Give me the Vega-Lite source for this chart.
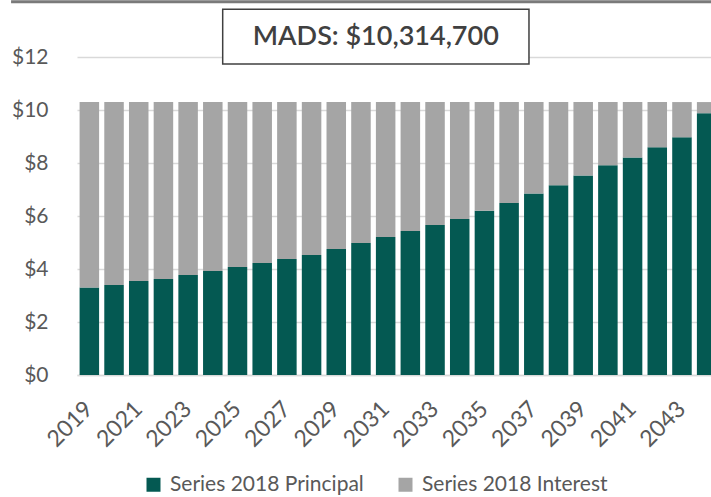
{
  "$schema": "https://vega.github.io/schema/vega-lite/v6.json",
  "width": 634,
  "height": 373,
  "autosize": {"type": "none"},
  "padding": {"left": 77, "top": 2, "right": 0, "bottom": 122},
  "background": "white",
  "config": {"view": {"stroke": null}, "font": "Lato"},
  "layer": [
    {
      "data": {
        "values": [
          {"year": "2019", "series": "Series 2018 Principal", "value": 3.31},
          {"year": "2020", "series": "Series 2018 Principal", "value": 3.40},
          {"year": "2021", "series": "Series 2018 Principal", "value": 3.55},
          {"year": "2022", "series": "Series 2018 Principal", "value": 3.63},
          {"year": "2023", "series": "Series 2018 Principal", "value": 3.78},
          {"year": "2024", "series": "Series 2018 Principal", "value": 3.93},
          {"year": "2025", "series": "Series 2018 Principal", "value": 4.08},
          {"year": "2026", "series": "Series 2018 Principal", "value": 4.23},
          {"year": "2027", "series": "Series 2018 Principal", "value": 4.38},
          {"year": "2028", "series": "Series 2018 Principal", "value": 4.53},
          {"year": "2029", "series": "Series 2018 Principal", "value": 4.76},
          {"year": "2030", "series": "Series 2018 Principal", "value": 4.99},
          {"year": "2031", "series": "Series 2018 Principal", "value": 5.21},
          {"year": "2032", "series": "Series 2018 Principal", "value": 5.44},
          {"year": "2033", "series": "Series 2018 Principal", "value": 5.67},
          {"year": "2034", "series": "Series 2018 Principal", "value": 5.89},
          {"year": "2035", "series": "Series 2018 Principal", "value": 6.20},
          {"year": "2036", "series": "Series 2018 Principal", "value": 6.50},
          {"year": "2037", "series": "Series 2018 Principal", "value": 6.86},
          {"year": "2038", "series": "Series 2018 Principal", "value": 7.17},
          {"year": "2039", "series": "Series 2018 Principal", "value": 7.54},
          {"year": "2040", "series": "Series 2018 Principal", "value": 7.92},
          {"year": "2041", "series": "Series 2018 Principal", "value": 8.22},
          {"year": "2042", "series": "Series 2018 Principal", "value": 8.60},
          {"year": "2043", "series": "Series 2018 Principal", "value": 8.98},
          {"year": "2044", "series": "Series 2018 Principal", "value": 9.89},
          {"year": "2019", "series": "Series 2018 Interest", "value": 7.00},
          {"year": "2020", "series": "Series 2018 Interest", "value": 6.91},
          {"year": "2021", "series": "Series 2018 Interest", "value": 6.76},
          {"year": "2022", "series": "Series 2018 Interest", "value": 6.68},
          {"year": "2023", "series": "Series 2018 Interest", "value": 6.53},
          {"year": "2024", "series": "Series 2018 Interest", "value": 6.38},
          {"year": "2025", "series": "Series 2018 Interest", "value": 6.23},
          {"year": "2026", "series": "Series 2018 Interest", "value": 6.08},
          {"year": "2027", "series": "Series 2018 Interest", "value": 5.93},
          {"year": "2028", "series": "Series 2018 Interest", "value": 5.78},
          {"year": "2029", "series": "Series 2018 Interest", "value": 5.55},
          {"year": "2030", "series": "Series 2018 Interest", "value": 5.32},
          {"year": "2031", "series": "Series 2018 Interest", "value": 5.10},
          {"year": "2032", "series": "Series 2018 Interest", "value": 4.87},
          {"year": "2033", "series": "Series 2018 Interest", "value": 4.64},
          {"year": "2034", "series": "Series 2018 Interest", "value": 4.42},
          {"year": "2035", "series": "Series 2018 Interest", "value": 4.11},
          {"year": "2036", "series": "Series 2018 Interest", "value": 3.81},
          {"year": "2037", "series": "Series 2018 Interest", "value": 3.45},
          {"year": "2038", "series": "Series 2018 Interest", "value": 3.14},
          {"year": "2039", "series": "Series 2018 Interest", "value": 2.77},
          {"year": "2040", "series": "Series 2018 Interest", "value": 2.39},
          {"year": "2041", "series": "Series 2018 Interest", "value": 2.09},
          {"year": "2042", "series": "Series 2018 Interest", "value": 1.71},
          {"year": "2043", "series": "Series 2018 Interest", "value": 1.33},
          {"year": "2044", "series": "Series 2018 Interest", "value": 0.42}
        ]
      },
      "mark": {"type": "bar"},
      "encoding": {
        "x": {
          "field": "year",
          "type": "ordinal",
          "scale": {"range": [0, 642], "paddingInner": 0.21, "paddingOuter": 0.105},
          "axis": {
            "values": ["2019", "2021", "2023", "2025", "2027", "2029", "2031", "2033", "2035", "2037", "2039", "2041", "2043"],
            "labelAngle": -45,
            "labelAlign": "right",
            "labelBaseline": "middle",
            "labelFontSize": 23,
            "labelColor": "#595959",
            "labelPadding": 30,
            "ticks": false,
            "domainColor": "#d9d9d9",
            "domainWidth": 1.5,
            "title": null
          }
        },
        "y": {
          "field": "value",
          "type": "quantitative",
          "stack": "zero",
          "scale": {"domain": [0, 14.09], "nice": false},
          "axis": {
            "values": [0, 2, 4, 6, 8, 10, 12],
            "labelExpr": "'$' + datum.value",
            "labelFontSize": 21,
            "labelColor": "#595959",
            "labelPadding": 29,
            "ticks": false,
            "domain": false,
            "grid": true,
            "gridColor": "#d9d9d9",
            "gridWidth": 1.5,
            "title": null
          }
        },
        "color": {
          "field": "series",
          "type": "nominal",
          "scale": {
            "domain": ["Series 2018 Principal", "Series 2018 Interest"],
            "range": ["#045952", "#a5a5a5"]
          },
          "legend": {
            "orient": "none",
            "legendX": 66,
            "legendY": 472,
            "direction": "horizontal",
            "title": null,
            "symbolType": "square",
            "symbolSize": 196,
            "symbolStrokeWidth": 0,
            "labelFontSize": 21,
            "labelColor": "#595959",
            "labelOffset": 6,
            "labelLimit": 400,
            "columnPadding": 31
          }
        },
        "order": {"field": "series", "sort": "descending"}
      }
    },
    {
      "data": {"values": [{}]},
      "layer": [
        {
          "mark": {"type": "rule", "color": "#7a7a7a", "strokeWidth": 3},
          "encoding": {
            "x": {"datum": -0.104, "type": "quantitative", "scale": {"domain": [0, 1], "nice": false, "zero": false}, "axis": null},
            "x2": {"datum": 1},
            "y": {"datum": 14.1, "type": "quantitative", "title": null}
          }
        },
        {
          "mark": {"type": "rect", "fill": "white", "stroke": "#404040", "strokeWidth": 1.5},
          "encoding": {
            "x": {"datum": 0.2298, "type": "quantitative", "axis": null},
            "x2": {"datum": 0.7129},
            "y": {"datum": 13.82, "type": "quantitative", "title": null},
            "y2": {"datum": 11.75}
          }
        },
        {
          "mark": {"type": "text", "text": "MADS: $10,314,700", "font": "Lato", "fontWeight": 600, "fontSize": 27, "color": "#404040", "align": "center", "baseline": "middle"},
          "encoding": {
            "x": {"datum": 0.4713, "type": "quantitative", "axis": null},
            "y": {"datum": 12.78, "type": "quantitative", "title": null}
          }
        }
      ]
    }
  ],
  "resolve": {"scale": {"x": "independent"}}
}
